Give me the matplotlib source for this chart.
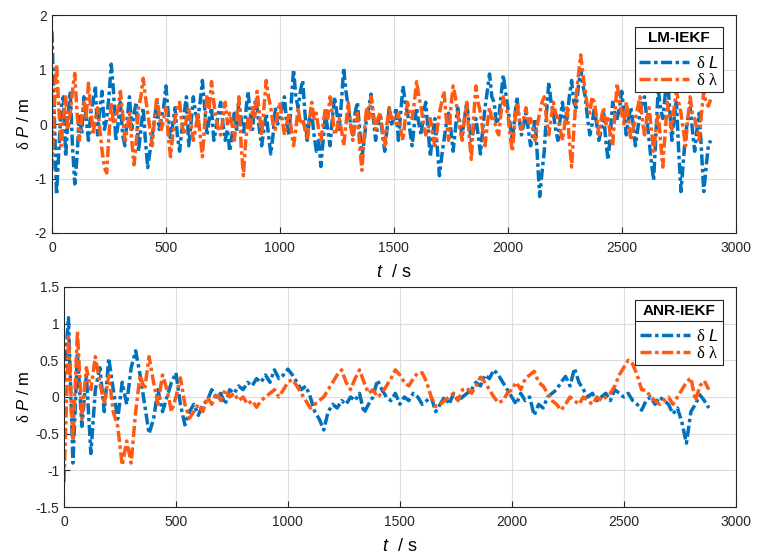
import matplotlib.pyplot as plt
import numpy as np
from matplotlib.lines import Line2D

plt.rcParams['font.family'] = ['Liberation Sans', 'DejaVu Sans']
plt.rcParams['mathtext.fontset'] = 'custom'
plt.rcParams['mathtext.it'] = 'Liberation Sans:italic'
plt.rcParams['mathtext.rm'] = 'Liberation Serif'

# LM-IEKF, one value every 10 s
t_lm = np.arange(0, 2900, 10)
lm_dL = [1.7, 0.2, -1.3, -0.5, 0.3, 0.5, -0.6, 0.1, 0.6, -0.4, -1.1, -0.6, 0.2, -0.2, 0.5, 0.1, -0.3, 0.2, 0.4, 0.7,
         -0.2, 0.3, 0.6, -0.1, 0.1, 0.5, 1.1, 0.6, -0.3, 0.0, 0.4, -0.2, -0.4, 0.1, 0.5, -0.1, 0.2, 0.4, -0.5, -0.1,
         0.3, -0.3, -0.8, -0.5, -0.2, 0.1, 0.4, -0.1, 0.1, 0.3, 0.7, 0.2, -0.3, 0.0, 0.3, -0.2, -0.5, -0.1, 0.2, 0.5,
         -0.4, 0.0, 0.5, 0.2, 0.1, 0.4, 0.8, 0.3, -0.2, 0.1, 0.3, -0.3, -0.1, 0.2, 0.4, 0.0, -0.3, -0.1, -0.5, -0.2,
         0.2, -0.1, 0.4, 0.1, -0.2, 0.2, 0.6, 0.2, -0.1, 0.4, 0.3, -0.1, -0.4, -0.1, 0.2, -0.2, -0.55, -0.2, 0.3, 0.0,
         0.1, 0.3, 0.5, 0.0, -0.2, 0.4, 1.0, 0.5, 0.3, 0.6, 0.8, 0.2, -0.3, 0.1, 0.2, -0.2, -0.5, -0.3, -0.78, -0.3,
         0.2, -0.1, -0.4, 0.1, 0.5, 0.2, -0.1, 0.4, 1.03, 0.6, 0.3, 0.0, -0.2, 0.2, 0.4, -0.1, -0.6, -0.3, 0.1, 0.3,
         0.55, 0.1, -0.3, 0.0, 0.2, -0.2, -0.5, -0.1, 0.3, 0.0, 0.1, 0.3, -0.3, 0.2, 0.7, 0.4, 0.2, -0.1, -0.4, 0.0,
         0.3, 0.0, -0.2, 0.2, 0.4, -0.1, -0.6, -0.2, 0.1, -0.4, -0.95, -0.6, -0.3, 0.0, 0.2, -0.1, -0.5, -0.1, 0.3, 0.0,
         -0.2, 0.1, 0.4, 0.0, -0.3, -0.1, 0.1, -0.2, -0.55, -0.1, 0.3, 0.6, 0.92, 0.5, 0.4, 0.0, 0.1, 0.5, 0.9, 0.6,
         0.3, 0.0, -0.3, 0.1, 0.5, 0.1, -0.2, 0.0, 0.2, -0.1, -0.4, -0.2, 0.1, -0.6, -1.33, -0.9, -0.5, 0.2, 0.77, 0.4,
         0.2, -0.1, -0.3, 0.1, 0.4, 0.0, 0.1, 0.5, 0.8, 0.4, 0.3, 0.7, 1.0, 0.7, 0.5, 0.1, -0.2, 0.0, 0.3, 0.0,
         -0.3, -0.1, 0.2, -0.3, -0.66, -0.2, 0.4, 0.2, 0.1, 0.3, 0.6, 0.2, -0.2, 0.1, 0.3, 0.0, -0.4, -0.1, 0.2, 0.4,
         0.5, 0.1, -0.3, -0.7, -1.03, -0.2, 0.65, 0.3, 0.1, 0.5, 0.9, 0.3, -0.3, 0.1, 0.4, -0.5, -1.24, -0.7, -0.2, 0.1,
         0.3, -0.1, -0.5, -0.1, 0.2, -0.5, -1.24, -0.8, -0.4, -0.3]
lm_dlam = [-0.85, 0.3, 1.1, 0.3, -0.4, 0.1, 0.5, -0.1, 0.2, 0.6, 0.93, 0.2, -0.3, 0.1, 0.4, 0.1, 0.75, 0.3, -0.2, 0.1,
           0.3, -0.1, -0.5, -0.8, -0.9, -0.2, 0.4, 0.0, 0.1, 0.3, 0.6, 0.2, -0.3, -0.1, 0.2, -0.3, -0.75, -0.3, 0.3, 0.5,
           0.84, 0.5, 0.2, -0.1, -0.4, 0.1, 0.5, 0.2, -0.1, 0.1, 0.3, -0.2, -0.6, -0.2, 0.1, 0.3, 0.4, 0.0, -0.2, 0.1,
           0.3, 0.0, -0.3, -0.1, 0.2, -0.2, -0.6, 0.0, 0.5, 0.3, 0.78, 0.4, 0.1, -0.1, -0.2, 0.1, 0.4, 0.0, 0.2, 0.0,
           -0.3, 0.1, 0.5, -0.4, -0.95, -0.3, 0.1, -0.1, 0.3, 0.1, 0.6, 0.2, -0.2, 0.3, 0.8, 0.5, 0.3, 0.0, -0.1, 0.2,
           0.4, 0.1, -0.2, 0.0, 0.2, -0.1, -0.4, -0.1, 0.3, 0.0, 0.1, -0.1, -0.3, 0.1, 0.4, 0.1, 0.2, -0.1, -0.3, 0.0,
           0.3, 0.1, 0.5, 0.2, -0.2, -0.1, 0.1, -0.1, -0.4, 0.0, 0.4, 0.0, -0.3, 0.0, 0.2, -0.4, -0.85, -0.2, 0.3, 0.1,
           0.5, 0.2, -0.1, 0.1, 0.2, -0.1, -0.4, 0.0, 0.3, 0.1, 0.1, 0.0, 0.2, -0.1, -0.3, 0.1, 0.4, 0.2, 0.1, 0.4,
           0.78, 0.5, 0.3, 0.0, -0.2, -0.1, 0.1, -0.2, -0.4, -0.1, 0.2, 0.4, 0.6, 0.1, -0.3, 0.3, 0.7, 0.5, 0.2, -0.1,
           -0.3, 0.1, 0.4, -0.2, -0.65, 0.1, 0.7, 0.4, 0.2, -0.1, -0.4, 0.0, 0.3, 0.1, 0.1, -0.1, -0.2, 0.2, 0.5, 0.3,
           0.2, -0.2, -0.5, 0.0, 0.4, 0.1, -0.1, 0.1, 0.3, 0.0, 0.1, -0.1, -0.3, 0.0, 0.2, 0.4, 0.5, 0.1, -0.2, 0.1,
           0.4, 0.2, 0.1, -0.1, -0.3, 0.0, 0.3, -0.3, -0.79, -0.1, 0.5, 0.9, 1.27, 0.9, 0.6, 0.3, 0.2, 0.5, 0.4, 0.1,
           -0.2, 0.1, 0.3, 0.0, 0.1, -0.2, -0.4, 0.2, 0.75, 0.4, 0.2, 0.0, 0.4, 0.1, -0.3, -0.1, 0.1, 0.3, 0.5, 0.1,
           -0.2, 0.1, 0.3, -0.1, -0.5, -0.1, 0.2, -0.3, -0.79, -0.2, 0.4, 0.1, -0.1, 0.3, 0.6, 0.4, 0.2, -0.1, -0.4, 0.1,
           0.5, 0.2, 0.1, -0.1, -0.3, 0.2, 0.6, 0.4, 0.33, 0.45]

# ANR-IEKF, one value every 20 s
t_anr = np.arange(0, 2900, 20)
anr_dL = [0.2, 1.08, -0.9, 0.6, -0.4, 0.3, -0.77, 0.1, 0.4, -0.2,
          0.53, 0.1, -0.3, 0.2, -0.1, 0.4, 0.63, 0.3, -0.1, -0.5,
          -0.3, 0.1, -0.2, 0.0, 0.2, 0.33, -0.1, -0.38, -0.2, -0.1,
          -0.25, -0.1, -0.05, 0.1, 0.0, 0.05, -0.1, 0.1, 0.05, 0.15,
          0.1, 0.2, 0.15, 0.25, 0.2, 0.3, 0.2, 0.37, 0.25, 0.3,
          0.38, 0.3, 0.2, 0.1, 0.15, 0.0, -0.2, -0.3, -0.45, -0.2,
          -0.1, -0.15, -0.05, -0.1, 0.0, -0.05, 0.05, -0.22, -0.1, 0.0,
          0.23, 0.1, 0.0, -0.05, 0.05, -0.1, 0.0, -0.05, 0.05, 0.0,
          -0.1, -0.05, 0.0, -0.2, -0.1, 0.0, -0.1, 0.05, -0.05, 0.0,
          0.05, 0.1, 0.2, 0.15, 0.3, 0.25, 0.37, 0.3, 0.2, 0.1,
          0.0, -0.1, 0.05, -0.05, 0.0, -0.25, -0.1, -0.15, 0.0, 0.05,
          0.1, 0.2, 0.28, 0.15, 0.39, 0.2, 0.1, 0.0, 0.05, -0.05,
          0.0, 0.05, -0.05, 0.1, 0.05, 0.0, 0.05, -0.05, -0.1, -0.18,
          -0.05, 0.0, -0.1, 0.0, -0.05, -0.1, -0.23, -0.15, -0.35, -0.63,
          -0.2, -0.1, 0.03, -0.05, -0.15]
anr_dlam = [-1.16, 0.82, -0.6, 0.89, -0.3, 0.4, 0.1, 0.55, 0.2, -0.1,
            0.3, -0.2, -0.4, -0.93, -0.6, -0.9, -0.2, 0.3, 0.1, 0.55,
            0.2, -0.1, 0.3, 0.1, -0.2, 0.0, 0.26, -0.1, -0.29, -0.2,
            -0.1, -0.2, 0.0, -0.1, 0.05, -0.05, 0.1, 0.0, 0.05, -0.05,
            0.0, -0.1, -0.05, -0.14, -0.05, 0.0, 0.05, 0.1, 0.0, 0.1,
            0.2, 0.24, 0.15, 0.05, -0.05, -0.15, -0.1, -0.05, 0.0, 0.1,
            0.2, 0.3, 0.37, 0.2, 0.1, 0.25, 0.37, 0.2, 0.05, 0.1,
            0.0, 0.05, 0.15, 0.25, 0.37, 0.3, 0.2, 0.15, 0.25, 0.33,
            0.33, 0.2, 0.0, -0.13, -0.1, -0.05, 0.0, 0.05, -0.05, 0.1,
            0.12, 0.05, 0.15, 0.27, 0.2, 0.1, 0.0, -0.08, -0.05, 0.05,
            0.1, 0.2, 0.1, 0.25, 0.3, 0.35, 0.2, 0.15, 0.05, -0.05,
            -0.1, -0.18, -0.1, 0.0, -0.05, -0.1, 0.0, -0.05, -0.1, 0.0,
            -0.05, 0.0, 0.05, 0.15, 0.3, 0.4, 0.5, 0.45, 0.3, 0.1,
            0.09, 0.0, -0.05, -0.1, -0.05, 0.0, -0.1, 0.0, 0.1, 0.2,
            0.26, -0.05, 0.15, 0.22, 0.1]

blue = '#0072BD'
orange = '#FF5A14'
dash = (0, (3.2, 1.0, 1.0, 1.0))

fig = plt.figure(figsize=(7.6, 5.6), dpi=100)
ax1 = fig.add_axes([0.0684, 0.584, 0.8996, 0.389])
ax2 = fig.add_axes([0.0842, 0.0946, 0.8838, 0.393])


def style_axes(ax, ylim, yticks, ytl):
    ax.set_xlim(0, 3000)
    ax.set_ylim(*ylim)
    ax.set_xticks(range(0, 3001, 500))
    ax.set_yticks(yticks)
    ax.set_yticklabels(ytl)
    ax.grid(True, color='#dcdcdc', linewidth=0.8)
    ax.set_axisbelow(True)
    ax.tick_params(direction='in', length=4, labelsize=10, colors='#262626',
                   top=False, right=False)
    ax.tick_params(axis='x', pad=6)
    for s in ax.spines.values():
        s.set_color('#262626')
        s.set_linewidth(0.8)
    ax.set_xlabel(r'$t$  / s', fontsize=13, labelpad=6)
    ax.set_ylabel(r'$\mathrm{\delta}\ P$ / m', fontsize=12, labelpad=2)


def add_legend(ax, title, top):
    leg = ax.legend(title=title, loc='upper right', bbox_to_anchor=(0.981, top),
                    borderaxespad=0, fontsize=12, frameon=True, fancybox=False,
                    edgecolor='#262626', handlelength=3.0, borderpad=0.25,
                    labelspacing=0.05, handletextpad=0.4, framealpha=1)
    leg.get_title().set_fontweight('bold')
    leg.get_title().set_fontsize(11)
    leg.get_frame().set_linewidth(0.8)
    leg._legend_box.sep = 7
    return leg


ax1.plot(t_lm, lm_dL, color=blue, lw=2.5, ls=dash, label=r'$\mathrm{\delta}\ L$')
ax1.plot(t_lm, lm_dlam, color=orange, lw=2.5, ls=dash, label=r'$\mathrm{\delta\ \lambda}$')
style_axes(ax1, (-2, 2), [-2, -1, 0, 1, 2], ['-2', '-1', '0', '1', '2'])
leg1 = add_legend(ax1, 'LM-IEKF', 0.945)

ax2.plot(t_anr, anr_dL, color=blue, lw=2.5, ls=dash, label=r'$\mathrm{\delta}\ L$')
ax2.plot(t_anr, anr_dlam, color=orange, lw=2.5, ls=dash, label=r'$\mathrm{\delta\ \lambda}$')
style_axes(ax2, (-1.5, 1.5), [-1.5, -1, -0.5, 0, 0.5, 1, 1.5],
           ['-1.5', '-1', '-0.5', '0', '0.5', '1', '1.5'])
leg2 = add_legend(ax2, 'ANR-IEKF', 0.94)

# separator line under the legend title, as in the MATLAB legend
fig.canvas.draw()
inv = fig.transFigure.inverted()
for leg in (leg1, leg2):
    fb = leg.get_frame().get_window_extent()
    tb = leg.get_title().get_window_extent()
    y = tb.y0 - 3
    (x0, yy), (x1, _) = inv.transform([(fb.x0, y), (fb.x1, y)])
    fig.add_artist(Line2D([x0, x1], [yy, yy], color='#262626', lw=0.8,
                          transform=fig.transFigure))

fig.savefig('out.png', dpi=100)
